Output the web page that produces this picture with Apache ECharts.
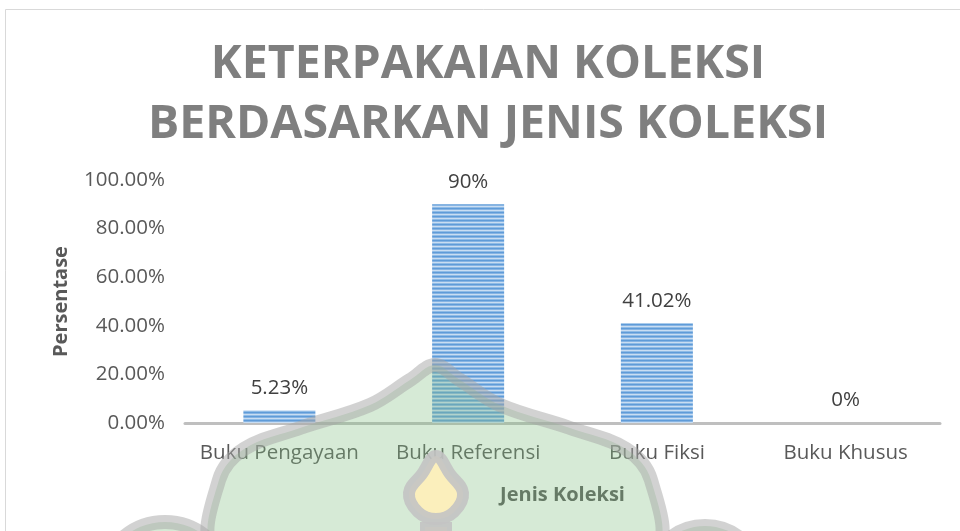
<!DOCTYPE html>
<html>
<head>
<meta charset="utf-8">
<script src="https://cdn.jsdelivr.net/npm/echarts@6/dist/echarts.min.js"></script>
<style>html,body{margin:0;padding:0;background:#fff}#c{width:960px;height:531px}</style>
</head>
<body>
<div id="c"></div>
<script>
const categories = ['Buku Pengayaan', 'Buku Referensi', 'Buku Fiksi', 'Buku Khusus'];
const values = [0.0523, 0.90, 0.4102, 0];
const valueLabels = ['5.23%', '90%', '41.02%', '0%'];
const titleText = 'KETERPAKAIAN KOLEKSI\nBERDASARKAN JENIS KOLEKSI';
const xName = 'Jenis Koleksi';
const yName = 'Persentase';

// striped pattern for bars
const pc = document.createElement('canvas');
pc.width = 4; pc.height = 4;
const px = pc.getContext('2d');
const rows = ['#5f9bd8', '#86b4e3', '#c9ddf2', '#8fbbe6'];
rows.forEach((c, i) => { px.fillStyle = c; px.fillRect(0, i, 4, 1); });

const chart = echarts.init(document.getElementById('c'), null, {renderer: 'canvas'});
const font = '"Open Sans", "Liberation Sans", sans-serif';
const wmStroke = 'rgba(165,165,165,0.5)';
const wmFill = 'rgba(130,190,130,0.33)';
const wmYellow = 'rgba(255,240,185,0.9)';
const domePts = [[217,545],[219,480],[244,449],[300,428],[370,405],[410,380],[435,365],[460,380],[500,405],[570,428],[626,449],[651,480],[653,545]];

chart.setOption({
  animation: false,
  backgroundColor: '#ffffff',
  title: {
    text: titleText,
    left: 483,
    textAlign: 'center',
    top: 30,
    textStyle: {
      fontFamily: font, fontWeight: 'bold', fontSize: 46.5, lineHeight: 60, color: '#7f7f7f'
    }
  },
  grid: {left: 185, right: 20, top: 180, bottom: 108},
  xAxis: {
    type: 'category',
    data: categories,
    name: xName,
    nameLocation: 'middle',
    nameGap: 62,
    nameTextStyle: {fontFamily: font, fontWeight: 'bold', fontSize: 20, color: '#595959'},
    axisLine: {lineStyle: {color: '#bfbfbf', width: 3}},
    axisTick: {show: false},
    axisLabel: {fontFamily: font, fontSize: 20.5, color: '#595959', margin: 20, interval: 0}
  },
  yAxis: {
    type: 'value',
    min: 0, max: 1, interval: 0.2,
    name: yName,
    nameLocation: 'middle',
    nameGap: 114,
    nameRotate: 90,
    nameTextStyle: {fontFamily: font, fontWeight: 'bold', fontSize: 20, color: '#595959'},
    axisLine: {show: false},
    axisTick: {show: false},
    splitLine: {show: false},
    axisLabel: {
      fontFamily: font, fontSize: 20.5, color: '#595959', margin: 20,
      formatter: v => (v * 100).toFixed(2) + '%'
    }
  },
  series: [{
    type: 'bar',
    data: values,
    barWidth: 72,
    itemStyle: {color: {image: pc, repeat: 'repeat'}},
    label: {
      show: true, position: 'top', distance: 12,
      fontFamily: font, fontSize: 20.5, color: '#404040',
      formatter: p => valueLabels[p.dataIndex]
    }
  }],
  graphic: [
    {type: 'rect', shape: {x: 5.5, y: 9.5, width: 1000, height: 600}, style: {fill: 'none', stroke: '#d9d9d9', lineWidth: 1}, z: 0, silent: true},
    {type: 'polygon', z: 100, silent: true, shape: {points: domePts, smooth: 0.35}, style: {fill: wmFill}},
    {type: 'circle', z: 100, silent: true, shape: {cx: 165, cy: 586, r: 64}, style: {fill: wmFill}},
    {type: 'circle', z: 100, silent: true, shape: {cx: 705, cy: 582, r: 56}, style: {fill: wmFill}},
    {type: 'polygon', z: 101, silent: true, shape: {points: domePts, smooth: 0.35}, style: {fill: 'none', stroke: wmStroke, lineWidth: 14}},
    {type: 'circle', z: 101, silent: true, shape: {cx: 165, cy: 586, r: 64}, style: {fill: 'none', stroke: wmStroke, lineWidth: 14}},
    {type: 'circle', z: 101, silent: true, shape: {cx: 705, cy: 582, r: 56}, style: {fill: 'none', stroke: wmStroke, lineWidth: 14}},
    {type: 'polygon', z: 102, silent: true,
      shape: {points: [[436,456],[422,474],[409,493],[418,512],[436,519],[454,512],[463,493],[450,474]], smooth: 0.4},
      style: {fill: wmYellow, stroke: 'rgba(195,195,195,0.9)', lineWidth: 12}},
    {type: 'rect', z: 102, silent: true, shape: {x: 425, y: 527, width: 22, height: 20},
      style: {fill: wmYellow, stroke: 'rgba(195,195,195,0.9)', lineWidth: 10}}
  ]
});
</script>
</body>
</html>
